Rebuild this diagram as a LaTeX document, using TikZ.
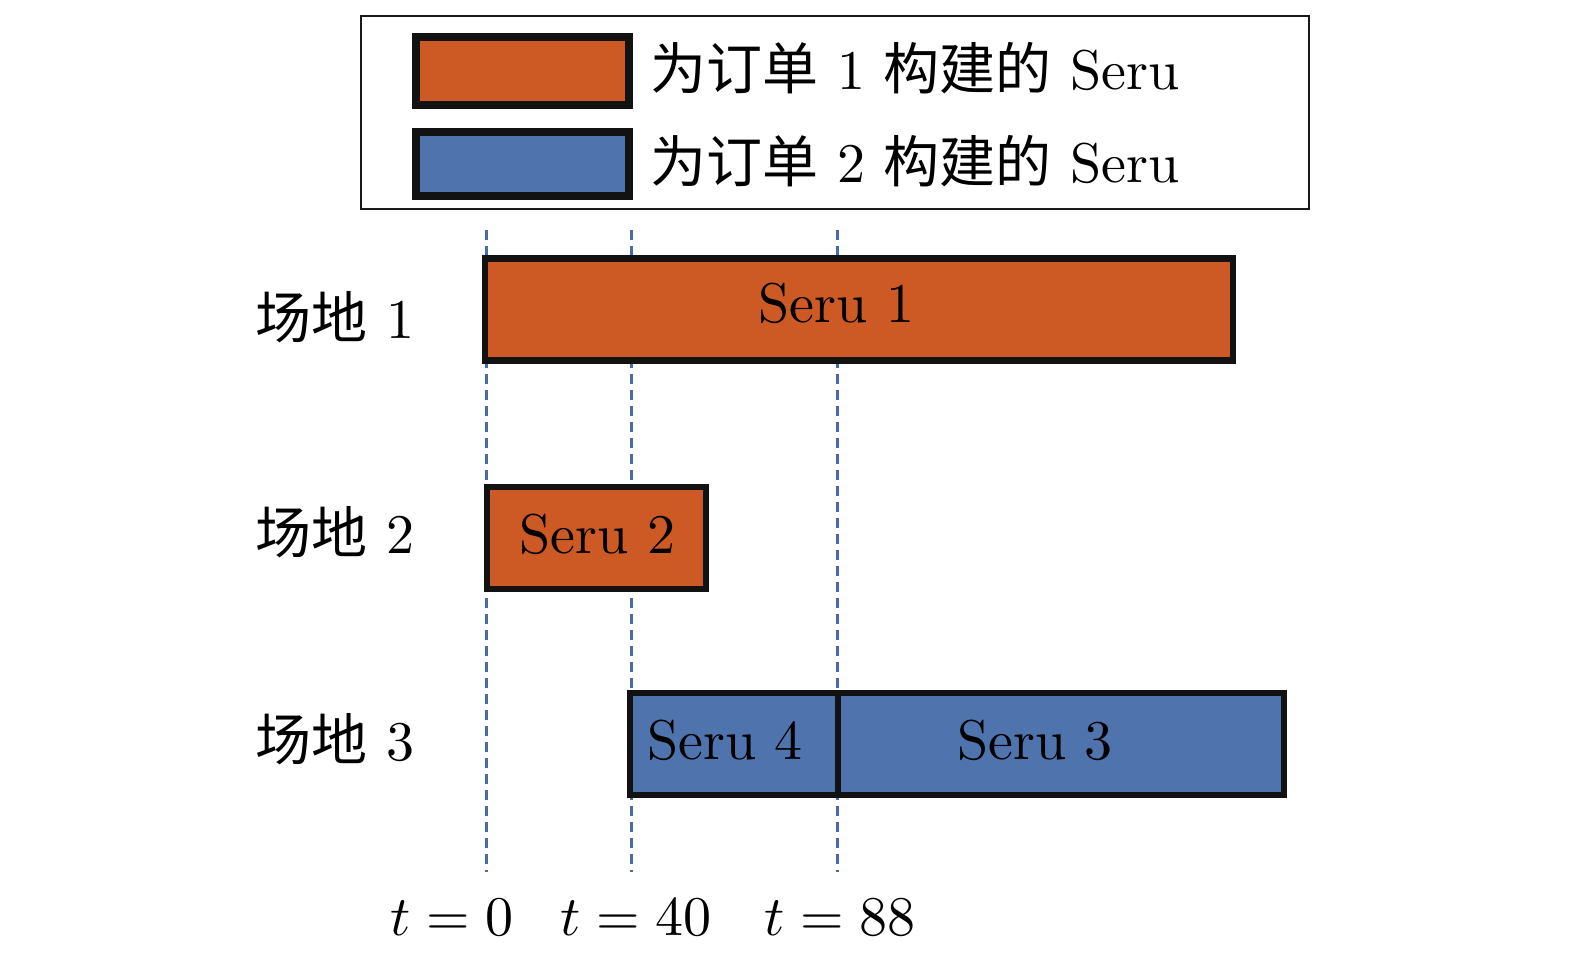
\documentclass[tikz,border=0pt]{standalone}
\usepackage{fontspec}
\newfontfamily\cjk{Noto Sans CJK SC}
\DeclareFontShape{TU}{lmr}{m}{n}{<-> "[lmroman10-regular]:+tlig;"}{}
\DeclareFontShape{OT1}{cmr}{m}{n}{<->cmr10}{}
\DeclareFontShape{OML}{cmm}{m}{it}{<->cmmi10}{}
\DeclareFontShape{OMS}{cmsy}{m}{n}{<->cmsy10}{}
\DeclareMathSizes{28}{28}{20}{14}
\usepackage{tikz}
\definecolor{seruorange}{RGB}{205,90,36}
\definecolor{serublue}{RGB}{79,115,172}
\definecolor{guideblue}{RGB}{72,108,170}
\tikzset{
    box/.style = {draw=black!93, line width=3.2pt, inner sep=0pt, minimum height=51pt},
    order1/.style = {box, fill=seruorange},
    order2/.style = {box, fill=serublue},
    swatch/.style = {draw=black!93, line width=4pt, inner sep=0pt, minimum width=106.5pt},
    guide/.style = {draw=guideblue, line width=1.5pt, dash pattern=on 5pt off 3pt},
    lbl/.style = {font=\fontsize{28}{33}\selectfont, inner sep=0pt, anchor=base west}
}

\begin{document}
\begin{tikzpicture}[x=0.5pt, y=-0.5pt]
    \useasboundingbox (0,0) rectangle (1575,955);

    % legend
    \node[draw=black!90, line width=1pt, minimum width=474pt, minimum height=96.5pt, inner sep=0pt] (legend) at (835,112.5) {};
    \node[swatch, fill=seruorange, minimum height=34pt] (sw1) at (522.5,71) {};
    \node[swatch, fill=serublue, minimum height=32pt] (sw2) at (522.5,164) {};
    \node[lbl] (leg1) at (650,89) {{\cjk 为订单} 1 {\cjk 构建的} Seru};
    \node[lbl] (leg2) at (650,182) {{\cjk 为订单} 2 {\cjk 构建的} Seru};

    % time guides
    \foreach \gx [count=\i] in {486, 631, 837} {
        \coordinate (g\i top) at (\gx,230);
        \coordinate (g\i bot) at (\gx,872);
        \draw[guide] (g\i top) -- (g\i bot);
    }

    % seru boxes
    \node[order1, minimum width=374pt] (s1) at (859,309.5) {};
    \node[order1, minimum width=109.5pt] (s2) at (596.5,538) {};
    \node[order2, minimum width=104pt] (s4) at (734,744) {};
    \node[order2, minimum width=223pt] (s3) at (1061,744) {};
    \node[lbl, anchor=base] (s1 txt) at (836.5,322) {Seru 1};
    \node[lbl, anchor=base] (s2 txt) at (597.5,553) {Seru 2};
    \node[lbl, anchor=base] (s4 txt) at (725,759) {Seru 4};
    \node[lbl, anchor=base] (s3 txt) at (1035,759) {Seru 3};

    % sites
    \node[lbl] (site1) at (255,338) {{\cjk 场地} 1};
    \node[lbl] (site2) at (255,553) {{\cjk 场地} 2};
    \node[lbl] (site3) at (255,760) {{\cjk 场地} 3};

    % time labels
    \node[lbl] (t0) at (390,935) {$t=0$};
    \node[lbl] (t40) at (560,935) {$t=40$};
    \node[lbl] (t88) at (764,935) {$t=88$};
\end{tikzpicture}
\end{document}
